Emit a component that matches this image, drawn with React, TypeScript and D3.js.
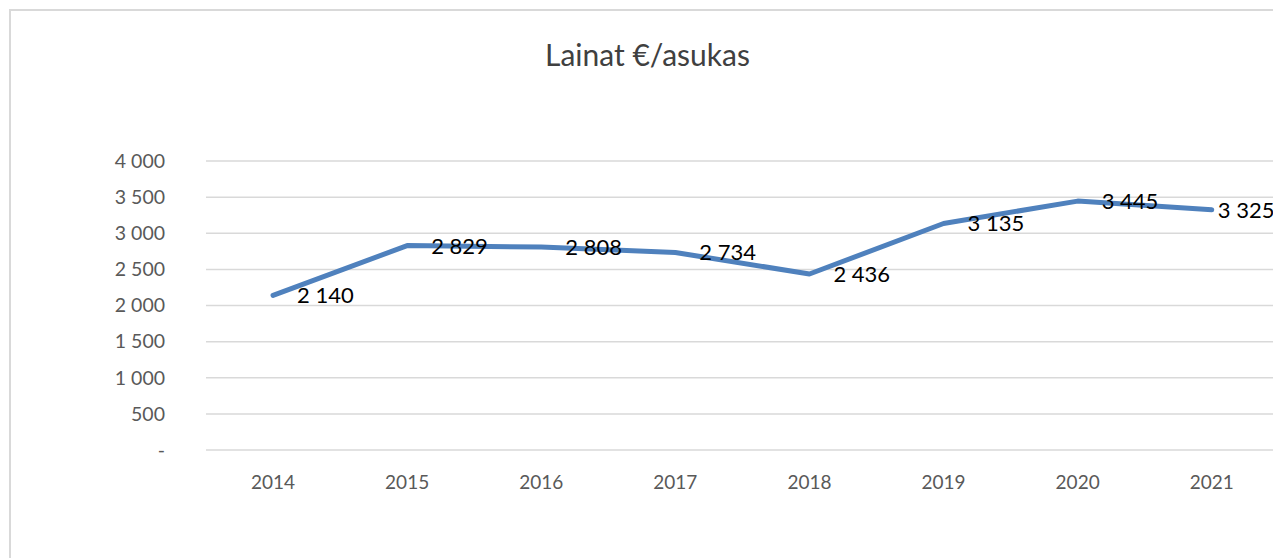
import React from "react";
import * as d3 from "d3";

const years = ["2014", "2015", "2016", "2017", "2018", "2019", "2020", "2021"];
const values = [2140, 2829, 2808, 2734, 2436, 3135, 3445, 3325];
const yTicks = [0, 500, 1000, 1500, 2000, 2500, 3000, 3500, 4000];
const title = "Lainat €/asukas";

const W = 1273;
const H = 558;
const FONT = "Lato, 'Open Sans', sans-serif";

const locale = d3.formatLocale({ thousands: " ", grouping: [3], decimal: ",", currency: ["", "€"] });
const fmt = locale.format(",");

export default function App() {
  const x = d3.scaleBand<string>().domain(years).range([206, 206 + 8 * 134.1]);
  const y = d3.scaleLinear().domain([0, 4000]).range([450, 161]);
  const cx = (yr: string) => (x(yr) as number) + x.bandwidth() / 2;
  const line = d3
    .line<number>()
    .x((_, i) => cx(years[i]))
    .y((d) => y(d));

  return (
    <svg
      width={W}
      height={H}
      style={{ position: "absolute", left: 0, top: 0, background: "#fff" }}
      fontFamily={FONT}
    >
      <rect x={0} y={0} width={W} height={H} fill="#fff" />
      <rect x={10} y={10} width={1400} height={700} fill="none" stroke="#d9d9d9" strokeWidth={2} />
      <text x={647.5} y={66} textAnchor="middle" fontSize={30} fill="#404040">
        {title}
      </text>
      {yTicks.map((t) => (
        <g key={t}>
          <line x1={206} x2={W} y1={y(t)} y2={y(t)} stroke="#d9d9d9" strokeWidth={1.5} />
          <text x={165} y={y(t)} dy="0.35em" textAnchor="end" fontSize={19.5} fill="#595959">
            {t === 0 ? "-" : fmt(t)}
          </text>
        </g>
      ))}
      {years.map((yr) => (
        <text key={yr} x={cx(yr)} y={489} textAnchor="middle" fontSize={19} fill="#595959">
          {yr}
        </text>
      ))}
      <path
        d={line(values) || ""}
        fill="none"
        stroke="#4f81bd"
        strokeWidth={5}
        strokeLinejoin="round"
        strokeLinecap="round"
      />
      {values.map((v, i) => {
        const px = cx(years[i]);
        const last = i === values.length - 1;
        return (
          <text key={i} x={last ? px + 6 : px + 24} y={y(v)} dy="0.36em" fontSize={22} fill="#000">
            {fmt(v)}
          </text>
        );
      })}
    </svg>
  );
}
